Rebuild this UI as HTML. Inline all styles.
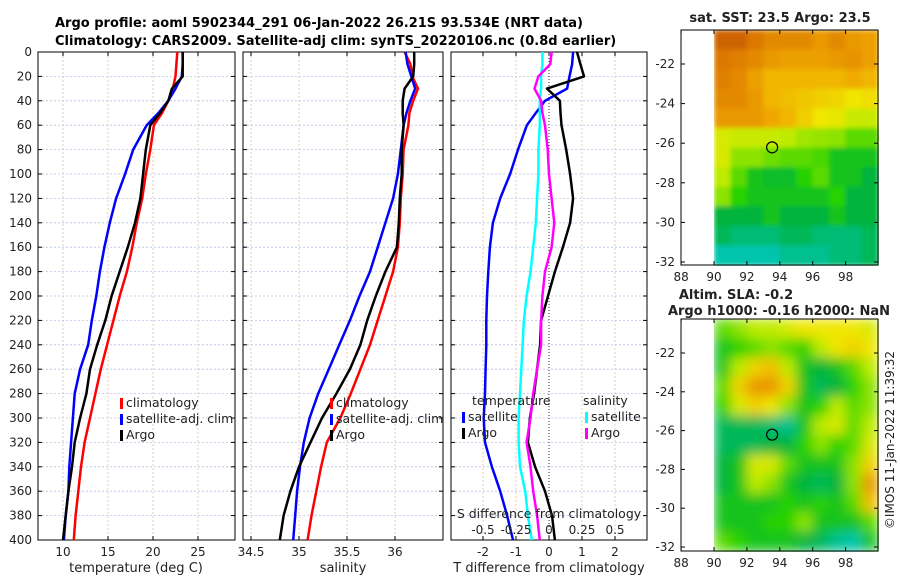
<!DOCTYPE html>
<html><head><meta charset="utf-8"><style>
body{margin:0;background:#fff;}
svg{display:block;font-family:"DejaVu Sans","Liberation Sans",sans-serif;}
</style></head><body>
<svg id="fig" width="900" height="580" viewBox="0 0 900 580" xmlns="http://www.w3.org/2000/svg">
<text x="55" y="27" font-size="13" font-weight="bold">Argo profile: aoml 5902344_291 06-Jan-2022 26.21S 93.534E (NRT data)</text>
<text x="55" y="45" font-size="13" font-weight="bold">Climatology: CARS2009. Satellite-adj clim: synTS_20220106.nc (0.8d earlier)</text>
<g id="g"></g>
</svg>
<script>
const depths=[0,10,20,30,40,50,60,80,100,120,140,160,180,200,220,240,260,280,300,320,340,360,380,400];
const tClim=[22.7,22.6,22.5,22.2,21.7,21,20.1,19.7,19.2,18.8,18.2,17.7,17.1,16.3,15.6,14.9,14.2,13.6,13,12.4,12,11.7,11.4,11.2];
const tSat=[23.3,23.3,23.2,22.5,21.7,20.6,19.3,17.8,16.9,15.9,15.2,14.6,14.1,13.7,13.2,12.8,11.9,11.3,11.1,10.9,10.7,10.6,10.3,10.1];
const tArgo=[23.3,23.3,23.3,22.1,21.7,20.8,19.7,19.2,18.9,18.6,18,17.2,16.3,15.4,14.7,13.8,13,12.6,11.9,11.3,11,10.6,10.3,10];
const sClim=[36.10,36.16,36.18,36.24,36.19,36.15,36.14,36.09,36.08,36.06,36.05,36.03,35.98,35.9,35.82,35.74,35.64,35.54,35.43,35.29,35.23,35.18,35.13,35.09];
const sSat=[36.11,36.13,36.17,36.21,36.16,36.12,36.09,36.06,36.03,35.98,35.9,35.82,35.74,35.63,35.53,35.42,35.31,35.2,35.11,35.05,35.01,34.98,34.96,34.94];
const sArgo=[36.2,36.2,36.19,36.1,36.08,36.08,36.09,36.07,36.07,36.05,36.04,36.02,35.9,35.8,35.71,35.64,35.53,35.39,35.24,35.12,35.0,34.91,34.84,34.8];
const dtSat=[0.73,0.7,0.62,0.55,-0.12,-0.4,-0.67,-0.94,-1.18,-1.48,-1.7,-1.79,-1.84,-1.88,-1.9,-1.9,-1.92,-1.94,-1.98,-1.94,-1.73,-1.48,-1.27,-1.09];
const dtArgo=[0.85,0.95,1.06,-0.06,0.33,0.35,0.38,0.52,0.64,0.73,0.64,0.42,0.18,-0.03,-0.24,-0.27,-0.36,-0.45,-0.58,-0.64,-0.42,-0.12,0.09,0.18];
const dsSat=[-0.05,-0.05,-0.06,-0.06,-0.07,-0.07,-0.07,-0.08,-0.08,-0.09,-0.1,-0.12,-0.14,-0.17,-0.19,-0.2,-0.21,-0.22,-0.23,-0.23,-0.22,-0.18,-0.16,-0.13];
const dsArgo=[0.02,0.01,-0.08,-0.11,-0.06,-0.05,-0.03,-0.01,0.0,0.02,0.04,0.02,-0.03,-0.05,-0.06,-0.06,-0.09,-0.12,-0.14,-0.17,-0.14,-0.12,-0.09,-0.07];
const depthTicks=[0,20,40,60,80,100,120,140,160,180,200,220,240,260,280,300,320,340,360,380,400];
const tTicks=[10,15,20,25], sTicks=[34.5,35,35.5,36], dtTicks=[-2,-1,0,1,2], dsTicks=[-0.5,-0.25,0,0.25,0.5];
const sstGrid=[
[0.95,0.95,0.9,0.85,0.85,0.85,0.8,0.85,0.8,0.78],
[0.9,0.88,0.85,0.8,0.78,0.78,0.78,0.8,0.82,0.78],
[0.88,0.85,0.78,0.72,0.72,0.72,0.72,0.72,0.75,0.72],
[0.85,0.85,0.8,0.72,0.7,0.68,0.66,0.64,0.6,0.62],
[0.8,0.8,0.8,0.76,0.72,0.66,0.6,0.58,0.52,0.52],
[0.55,0.52,0.52,0.52,0.5,0.47,0.46,0.45,0.4,0.4],
[0.55,0.45,0.45,0.42,0.4,0.4,0.38,0.3,0.3,0.3],
[0.5,0.4,0.3,0.28,0.28,0.35,0.4,0.3,0.3,0.25],
[0.45,0.35,0.3,0.3,0.3,0.3,0.3,0.35,0.25,0.25],
[0.25,0.25,0.25,0.3,0.25,0.25,0.25,0.3,0.25,0.25],
[0.2,0.15,0.15,0.15,0.2,0.2,0.15,0.15,0.15,0.2],
[0.05,0.05,0.05,0.05,0.1,0.1,0.1,0.15,0.15,0.2]];
const slaGrid=[
[0.4,0.45,0.5,0.5,0.55,0.6,0.6,0.6,0.6,0.55],
[0.3,0.35,0.4,0.45,0.4,0.35,0.5,0.6,0.65,0.6],
[0.3,0.5,0.65,0.7,0.5,0.3,0.25,0.3,0.4,0.5],
[0.4,0.65,0.8,0.8,0.65,0.3,0.2,0.25,0.35,0.45],
[0.35,0.55,0.65,0.6,0.45,0.3,0.35,0.5,0.4,0.45],
[0.2,0.2,0.2,0.15,0.1,0.3,0.5,0.55,0.4,0.5],
[0.2,0.2,0.2,0.25,0.25,0.35,0.45,0.35,0.4,0.55],
[0.25,0.3,0.55,0.55,0.4,0.3,0.3,0.3,0.45,0.65],
[0.25,0.3,0.5,0.45,0.3,0.25,0.2,0.25,0.45,0.8],
[0.3,0.3,0.3,0.3,0.35,0.3,0.35,0.3,0.4,0.7],
[0.3,0.3,0.3,0.35,0.35,0.45,0.3,0.3,0.3,0.4],
[0.4,0.35,0.3,0.3,0.3,0.25,0.2,0.1,0.05,0.3]];
const lonTicks=[88,90,92,94,96,98], latTicks=[-22,-24,-26,-28,-30,-32];
const argoLon=93.534, argoLat=-26.21;

const NS="http://www.w3.org/2000/svg", G=document.getElementById('g');
function el(t,a,p){const e=document.createElementNS(NS,t);for(const k in a)e.setAttribute(k,a[k]);(p||G).appendChild(e);return e;}
const Y0=52,Y1=540; const yD=d=>Y0+d*(Y1-Y0)/400;
function panel(name,x0,x1,xs,ticks,fmt,gridTicks){
  const g=el('g',{});
  
  
  depthTicks.forEach(d=>{el('line',{x1:x0,x2:x1,y1:yD(d),y2:yD(d),stroke:'#b8c4e8','stroke-width':0.8,'stroke-dasharray':'2,2'},g);});
  gridTicks.forEach(v=>{el('line',{x1:xs(v),x2:xs(v),y1:Y0,y2:Y1,stroke:'#e6c0a0','stroke-width':0.8,'stroke-dasharray':'2,2'},g);});
  el('rect',{x:x0,y:Y0,width:x1-x0,height:Y1-Y0,fill:'none',stroke:'#000','stroke-width':1},g);
  ticks.forEach(v=>{const x=xs(v);el('line',{x1:x,x2:x,y1:Y1,y2:Y1-4,stroke:'#000'},g);el('line',{x1:x,x2:x,y1:Y0,y2:Y0+4,stroke:'#000'},g);
    const t=el('text',{x:x,y:Y1+16,'font-size':12,'text-anchor':'middle',fill:'#222'},g);t.textContent=fmt(v);});
  depthTicks.forEach(d=>{el('line',{x1:x0,x2:x0+4,y1:yD(d),y2:yD(d),stroke:'#000'},g);el('line',{x1:x1,x2:x1-4,y1:yD(d),y2:yD(d),stroke:'#000'},g);});
  return g;
}
function line(g,name,xs,vals,color,w){
  const pts=vals.map((v,i)=>xs(v).toFixed(1)+','+yD(depths[i]).toFixed(1)).join(' ');
  const p=el('polyline',{points:pts,fill:'none',stroke:color,'stroke-width':w||2.5,'stroke-linejoin':'round'},g);
  
  
}
function label(txt,x,y,anchor,size,name,g){const t=el('text',{x:x,y:y,'font-size':size||12,'text-anchor':anchor||'start',fill:'#222'},g);t.textContent=txt;return t;}
function legItem(g,x,y,color,txt,name){el('rect',{x:x,y:y-9,width:3,height:11,fill:color},g);label(txt,x+6,y,'start',12.5,name,g);}

// panel 1
const xT=v=>63+(v-10)*9;
const p1=panel('temperature-panel',38,235,xT,tTicks,v=>v,tTicks);
depthTicks.forEach(d=>label(String(d),32,yD(d)+4,'end',12,'depth-tick-label',p1));
line(p1,'temperature-climatology-line',xT,tClim,'#f00');
line(p1,'temperature-satellite-line',xT,tSat,'#00f');
line(p1,'temperature-argo-line',xT,tArgo,'#000');
legItem(p1,120,407,'#f00','climatology','legend-climatology');
legItem(p1,120,423,'#00f','satellite-adj. clim','legend-satellite');
legItem(p1,120,439,'#000','Argo','legend-argo');
label('temperature (deg C)',136,572,'middle',13,'x-axis-title-temperature',p1);

// panel 2
const xS=v=>299+(v-35)*96;
const p2=panel('salinity-panel',243,443,xS,sTicks,v=>v,sTicks);
line(p2,'salinity-climatology-line',xS,sClim,'#f00');
line(p2,'salinity-satellite-line',xS,sSat,'#00f');
line(p2,'salinity-argo-line',xS,sArgo,'#000');
legItem(p2,330,407,'#f00','climatology','legend-climatology-sal');
legItem(p2,330,423,'#00f','satellite-adj. clim','legend-satellite-sal');
legItem(p2,330,439,'#000','Argo','legend-argo-sal');
label('salinity',343,572,'middle',13,'x-axis-title-salinity',p2);

// panel 3
const xDT=v=>549+v*33, xDS=v=>549+v*132;
const p3=panel('difference-panel',451,647,xDT,dtTicks,v=>v,[-2,-1,1,2]);
el('line',{x1:xDT(0),x2:xDT(0),y1:Y0,y2:Y1,stroke:'#333','stroke-width':1,'stroke-dasharray':'1,2'},p3);
line(p3,'tdiff-satellite-line',xDT,dtSat,'#00f');
line(p3,'tdiff-argo-line',xDT,dtArgo,'#000');
line(p3,'sdiff-satellite-line',xDS,dsSat,'#0ff');
line(p3,'sdiff-argo-line',xDS,dsArgo,'#f0f');
label('temperature',472,405,'start',12.5,'legend-title-temperature',p3);
label('salinity',583,405,'start',12.5,'legend-title-salinity',p3);
legItem(p3,462,421,'#00f','satellite','legend-tdiff-satellite');
legItem(p3,462,437,'#000','Argo','legend-tdiff-argo');
legItem(p3,585,421,'#0ff','satellite','legend-sdiff-satellite');
legItem(p3,585,437,'#f0f','Argo','legend-sdiff-argo');
label('S difference from climatology',549,518,'middle',12.5,'s-diff-axis-title',p3);
dsTicks.forEach(v=>label(String(v),xDS(v),534,'middle',12,'s-diff-tick-label',p3));
label('T difference from climatology',549,572,'middle',13,'x-axis-title-tdiff',p3);

// maps
function cmap(v){const st=[[0,0,200,200],[0.25,0,180,60],[0.35,40,210,0],[0.5,190,235,0],[0.6,240,230,0],[0.75,240,170,0],[0.9,220,120,0],[1,190,80,0]];
  for(let i=1;i<st.length;i++){if(v<=st[i][0]){const a=st[i-1],b=st[i],f=(v-a[0])/(b[0]-a[0]);return 'rgb('+[1,2,3].map(k=>Math.round(a[k]+f*(b[k]-a[k]))).join(',')+')';}}return 'rgb(190,80,0)';}
const defs=el('defs',{});
const f1=el('filter',{id:'blur1',x:'0',y:'0',width:'1',height:'1'},defs);el('feGaussianBlur',{stdDeviation:'2.5',edgeMode:'duplicate'},f1);
const f2=el('filter',{id:'blur2',x:'0',y:'0',width:'1',height:'1'},defs);el('feGaussianBlur',{stdDeviation:'6',edgeMode:'duplicate'},f2);
function mapPanel(name,grid,filt,bx0,by0,bx1,by1,yLat22,yLat32,titles){
  const g=el('g',{});
  
  
  const xL=lon=>714+(lon-90)*16.45, yL=lat=>yLat22+(-22-lat)*(yLat32-yLat22)/10;
  const rows=grid.length, cols=grid[0].length;
  const cw=(bx1-xL(90))/cols, ch=(by1-by0)/rows;
  const cg=el('g',{filter:'url(#'+filt+')'},g);
  grid.forEach((r,i)=>r.forEach((v,j)=>{const c=el('rect',{x:xL(90)+j*cw,y:by0+i*ch,width:cw+0.6,height:ch+0.6,fill:cmap(v)},cg);
    
    }));
  el('rect',{x:bx0,y:by0,width:bx1-bx0,height:by1-by0,fill:'none',stroke:'#000'},g);
  lonTicks.forEach(l=>{el('line',{x1:xL(l),x2:xL(l),y1:by1,y2:by1-4,stroke:'#000'},g);el('line',{x1:xL(l),x2:xL(l),y1:by0,y2:by0+4,stroke:'#000'},g);label(String(l),xL(l),by1+16,'middle',12,'lon-tick-label',g);});
  latTicks.forEach(l=>{el('line',{x1:bx0,x2:bx0+4,y1:yL(l),y2:yL(l),stroke:'#000'},g);el('line',{x1:bx1,x2:bx1-4,y1:yL(l),y2:yL(l),stroke:'#000'},g);label(String(l),bx0-6,yL(l)+4,'end',12,'lat-tick-label',g);});
  const m=el('circle',{cx:xL(argoLon),cy:yL(argoLat),r:5.5,fill:'none',stroke:'#000','stroke-width':1.2},g);
  
  
  titles.forEach(t=>{const e=label(t[0],t[1],t[2],'middle',13,'map-title',g);e.setAttribute('font-weight','bold');});
}
mapPanel('sst-map',sstGrid,'blur1',681,30,878,265,64,262,[['sat. SST: 23.5 Argo: 23.5',780,22]]);
mapPanel('sla-map',slaGrid,'blur2',681,319,878,551,353,547,[['Altim. SLA: -0.2',736,299],['Argo h1000: -0.16 h2000: NaN',779,315]]);
const ts=el('text',{x:0,y:0,'font-size':12,'text-anchor':'middle',fill:'#222',transform:'translate(894,440) rotate(-90)'});
ts.textContent='©IMOS 11-Jan-2022 11:39:32';


</script>
</body></html>
